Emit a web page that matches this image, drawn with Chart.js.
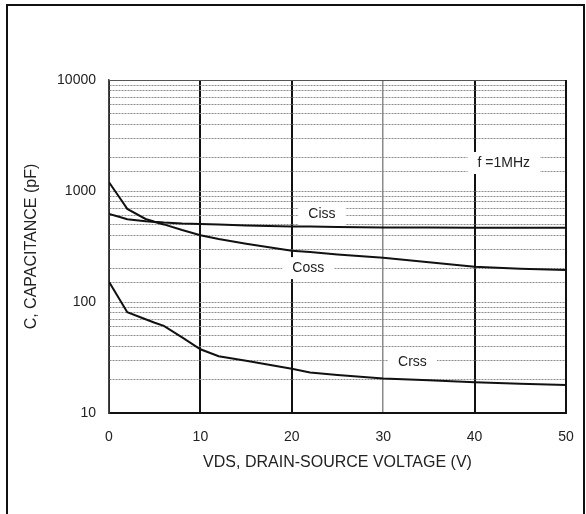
<!DOCTYPE html>
<html>
<head>
<meta charset="utf-8">
<script src="https://cdn.jsdelivr.net/npm/chart.js@4.4.1/dist/chart.umd.min.js"></script>
<style>
  html, body { margin: 0; padding: 0; background: #fff; }
  canvas { display: block; }
</style>
</head>
<body>
<canvas id="c" width="586" height="514"></canvas>
<script>
// ---- data ----
const voltage = [0, 1, 2, 4, 5, 6, 8, 10, 12, 15, 20, 22, 25, 30, 35, 40, 45, 50];
const ciss = [1200, 910, 690, 560, 528, 520, 510, 505, 498, 490, 480, 478, 475, 470, 468, 467, 466, 466];
const coss = [620, 590, 556, 535, 525, 500, 445, 400, 370, 335, 290, 282, 268, 250, 228, 208, 199, 194];
const crss = [152, 111, 81, 70, 65, 61, 48, 37.5, 32.5, 29.5, 25, 23.2, 22, 20.5, 19.7, 18.9, 18.3, 17.9];
const xTicks = [0, 10, 20, 30, 40, 50];
const yTickLabels = [10, 100, 1000, 10000];
const xTitle = 'VDS, DRAIN-SOURCE VOLTAGE (V)';
const yTitle = 'C, CAPACITANCE (pF)';
// in-plot annotation texts with their data-space anchors
const noteText = ['Ciss', 'Coss', 'Crss', 'f =1MHz'];
const noteV = [23.3, 21.8, 33.2, 43.2];
const noteC = [621, 202, 28.8, 1787];

const pts = arr => voltage.map((v, i) => ({ x: v, y: arr[i] }));
const FONT = '"Liberation Sans", Arial, sans-serif';

const notesPlugin = {
  id: 'notes',
  beforeDatasetsDraw(chart) {
    const { ctx, scales: { x, y } } = chart;
    ctx.save();
    ctx.font = '14px ' + FONT;
    ctx.textAlign = 'center';
    ctx.textBaseline = 'middle';
    noteText.forEach((t, i) => {
      const px = x.getPixelForValue(noteV[i]);
      const py = y.getPixelForValue(noteC[i]);
      const w = ctx.measureText(t).width;
      ctx.fillStyle = '#fff';
      ctx.fillRect(px - w / 2 - 10, py - 11, w + 20, 22);
      ctx.fillStyle = '#222';
      ctx.fillText(t, px, py);
    });
    ctx.restore();
  },
  afterDatasetsDraw(chart) {
    const { ctx, chartArea: a } = chart;
    ctx.save();
    ctx.strokeStyle = '#555';
    ctx.lineWidth = 1;
    ctx.beginPath();
    ctx.moveTo(a.left, a.top + 0.5);
    ctx.lineTo(a.right, a.top + 0.5);
    ctx.stroke();
    ctx.strokeStyle = '#111';
    ctx.lineWidth = 2;
    ctx.beginPath();
    ctx.moveTo(a.right, a.top);
    ctx.lineTo(a.right, a.bottom);
    ctx.stroke();
    ctx.restore();
  },
  afterDraw(chart) {
    const { ctx } = chart;
    ctx.save();
    ctx.strokeStyle = '#111';
    ctx.lineWidth = 2;
    ctx.strokeRect(7, 5, 577, 560);
    ctx.restore();
  }
};

new Chart(document.getElementById('c'), {
  type: 'line',
  data: {
    datasets: [
      { label: 'Ciss', data: pts(ciss) },
      { label: 'Coss', data: pts(coss) },
      { label: 'Crss', data: pts(crss) }
    ].map(d => Object.assign(d, {
      borderColor: '#111', borderWidth: 2, pointRadius: 0, tension: 0, fill: false
    }))
  },
  options: {
    responsive: false,
    animation: false,
    events: [],
    layout: { padding: { left: 0, top: 80, right: 20, bottom: 0 } },
    plugins: { legend: { display: false }, tooltip: { enabled: false } },
    scales: {
      x: {
        type: 'linear',
        min: 0, max: 50,
        afterFit: s => { s.height = 101; s.paddingLeft = 0; s.paddingRight = 0; },
        afterBuildTicks: s => { s.ticks = xTicks.map(v => ({ value: v })); },
        ticks: { padding: 16, color: '#222', font: { family: FONT, size: 14 }, maxRotation: 0 },
        grid: {
          drawTicks: false,
          color: c => (c.tick && c.tick.value === 30) ? '#8a8a8a' : '#111',
          lineWidth: c => (c.tick && c.tick.value === 30) ? 1.5 : 2
        },
        border: { display: true, color: '#111', width: 2 },
        title: { display: true, text: xTitle, color: '#222', font: { family: FONT, size: 16 }, padding: { top: 0, bottom: 42 } }
      },
      y: {
        type: 'logarithmic',
        min: 10, max: 10000,
        afterFit: s => { s.width = 109; s.paddingTop = 0; s.paddingBottom = 0; },
        ticks: {
          autoSkip: false,
          padding: 13,
          color: '#222',
          font: { family: FONT, size: 14 },
          callback: v => yTickLabels.includes(v) ? String(v) : ''
        },
        grid: { drawTicks: false, color: '#8c8c8c', lineWidth: 1 },
        border: { display: true, color: '#444', width: 1.5, dash: [2, 1] },
        title: { display: true, text: yTitle, color: '#222', font: { family: FONT, size: 16 }, padding: { top: 22, bottom: 0 } }
      }
    }
  },
  plugins: [notesPlugin]
});
</script>
</body>
</html>
